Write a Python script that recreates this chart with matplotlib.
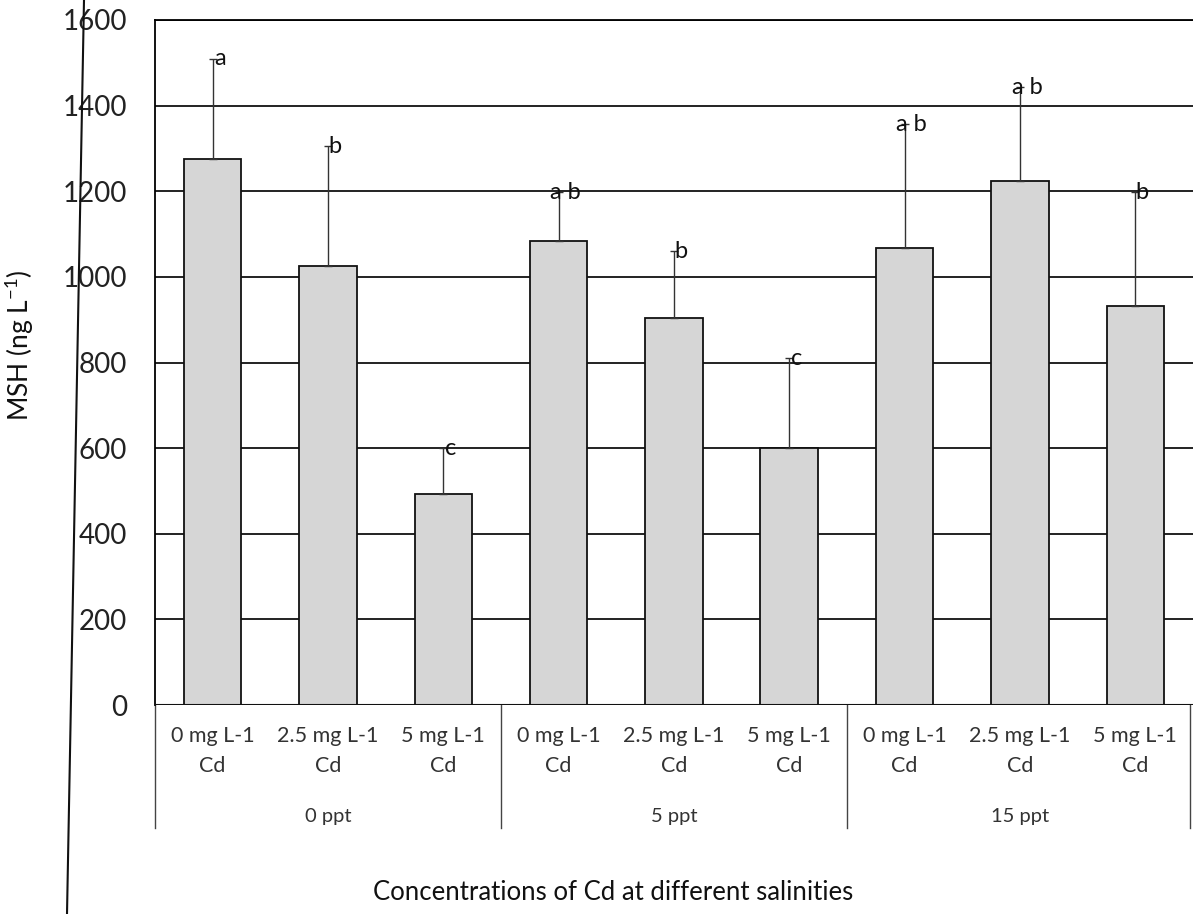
import matplotlib
matplotlib.use("Agg")
import matplotlib.pyplot as plt
from matplotlib.lines import Line2D
import numpy as np

plt.rcParams['font.family'] = ['Lato', 'DejaVu Sans']
plt.rcParams['mathtext.default'] = 'regular'

cd_levels = ["0 mg L-1\nCd", "2.5 mg L-1\nCd", "5 mg L-1\nCd"]
salinities = ["0 ppt", "5 ppt", "15 ppt"]
msh = [1275, 1025, 494, 1083, 905, 600, 1067, 1223, 931]
msh_err = [235, 280, 106, 115, 155, 210, 290, 220, 267]
letters = ["a", "b", "c", "a b", "b", "c", "a b", "a b", "b"]

labels = cd_levels * len(salinities)
x = np.arange(len(msh))

fig = plt.figure(figsize=(11.93, 9.14), dpi=100)
ax = fig.add_axes([155 / 1193, 1 - 705 / 914, 1 - 155 / 1193, 685 / 914])

ax.set_axisbelow(True)
ax.yaxis.grid(True, color='#222222', lw=1.4)
ax.bar(x, msh, width=0.5, color='#d6d6d6', edgecolor='#111111', lw=1.3, zorder=2)
ax.errorbar(x, msh, yerr=[np.zeros(len(msh)), msh_err], fmt='none',
            ecolor='#333333', elinewidth=1.0, capsize=3, capthick=1.0, zorder=3)

for xi, v, e, t in zip(x, msh, msh_err, letters):
    ax.text(xi + 0.06, v + e, t, ha='center', va='center', fontsize=17,
            color='#111111', zorder=4)

ax.set_xlim(-0.5, len(msh) - 0.5)
ax.set_ylim(0, 1600)
ax.set_yticks(range(0, 1601, 200))
ax.tick_params(axis='y', length=0, labelsize=20, pad=20, labelcolor='#222222')
ax.set_xticks(x)
ax.set_xticklabels(labels, fontsize=15.5)
ax.tick_params(axis='x', length=0, pad=15, labelcolor='#333333')
for lbl in ax.get_xticklabels():
    lbl.set_linespacing(1.65)

for s in ['right', 'bottom']:
    ax.spines[s].set_visible(False)
ax.spines['left'].set_linewidth(1.3)
ax.spines['top'].set_linewidth(1.3)
ax.axhline(0, color='#111111', lw=1.5, zorder=5)

# category boxes below the axis
trans = ax.get_xaxis_transform()
for b in [-0.5, 2.5, 5.5, 8.47]:
    ax.plot([b, b], [0, -0.18], transform=trans, color='#444444', lw=1.0, clip_on=False)
for i, s in enumerate(salinities):
    ax.text(3 * i + 1, -0.1635, s, transform=trans, ha='center', va='center',
            fontsize=14.5, color='#333333')

fig.text(20 / 1193, 1 - 345 / 914, "MSH (ng L$^{-1}$)", rotation=90,
         ha='center', va='center', fontsize=19, color='#111111')
fig.text(613 / 1193, 1 - 892 / 914, "Concentrations of Cd at different salinities",
         ha='center', va='center', fontsize=18.5, color='#111111')

# scanned page edge line
fig.add_artist(Line2D([84 / 1193, 67 / 1193], [1, 0], transform=fig.transFigure,
                      color='#111111', lw=1.5))

fig.savefig("out.png", dpi=100)
